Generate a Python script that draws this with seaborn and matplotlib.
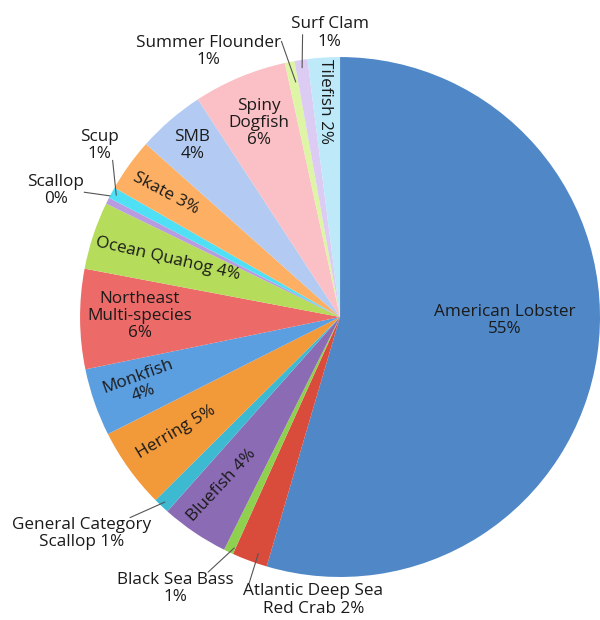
import numpy as np
import matplotlib
matplotlib.use("Agg")
import matplotlib.pyplot as plt
import seaborn as sns

# Species in chart order (clockwise from 12 o'clock)
species = ["American Lobster", "Atlantic Deep Sea Red Crab", "Black Sea Bass", "Bluefish",
           "General Category Scallop", "Herring", "Monkfish", "Northeast Multi-species",
           "Ocean Quahog", "Scallop", "Scup", "Skate", "SMB", "Spiny Dogfish",
           "Summer Flounder", "Surf Clam", "Tilefish"]
# wedge sizes (percent)
shares = [54.5, 2.2, 0.6, 4.2, 1.0, 5.0, 4.2, 6.2, 4.2, 0.4, 0.7, 3.3, 4.2, 5.8, 0.6, 0.8, 2.0]
# percentages as printed on the chart
reported = [55, 2, 1, 4, 1, 5, 4, 6, 4, 0, 1, 3, 4, 6, 1, 1, 2]

colors = ["#4F87C7", "#D94B3B", "#8FD14F", "#8C6BB5", "#3DB9D2", "#F2993A", "#5C9FE0",
          "#EC6A68", "#B6DC5B", "#B89BE0", "#4FE0F5", "#FDB064", "#B3CBF2", "#FBC0C5",
          "#DDF5A5", "#DCCBF2", "#BDE9F9"]

# label text layout (line breaks)
label_fmt = ["American Lobster\n{p}%", "Atlantic Deep Sea\nRed Crab {p}%", "Black Sea Bass\n{p}%",
             "Bluefish {p}%", "General Category\nScallop {p}%", "Herring {p}%", "Monkfish\n{p}%",
             "Northeast\nMulti-species\n{p}%", "Ocean Quahog {p}%", "Scallop\n{p}%", "Scup\n{p}%",
             "Skate {p}%", "SMB\n{p}%", "Spiny\nDogfish\n{p}%", "Summer Flounder\n{p}%",
             "Surf Clam\n{p}%", "Tilefish {p}%"]

# placement: (kind, radius, clockwise angle offset from wedge middle, rotation,
#             leader end radius, leader end angle offset, leader start relpos)
placement = [
    ("in", 0.635, -7, 0, None, 0, None),
    ("out", 1.093, -15, 0, 0.963, -1.3, (0.04, 1.0)),
    ("out", 1.222, 5.8, 0, 0.977, -0.8, (0.78, 1.0)),
    ("in", 0.79, 1, 47, None, 0, None),
    ("out", 1.297, 6.7, 0, 0.98, 0, (0.85, 0.97)),
    ("in", 0.77, 0.6, 31, None, 0, None),
    ("in", 0.81, 0.4, 20, None, 0, None),
    ("in", 0.77, 0.7, 0, None, 0, None),
    ("in", 0.70, 0.4, -13, None, 0, None),
    ("out", 1.197, -2.6, 0, 1.0, 1.2, (1.0, 0.45)),
    ("out", 1.138, 6.9, 0, 0.98, 0, (0.85, 0.05)),
    ("in", 0.82, -0.5, -28, None, 0, None),
    ("in", 0.87, 0, 0, None, 0, None),
    ("in", 0.81, 0, 0, None, 0, None),
    ("out", 1.14, -15.1, 0, 0.92, 0.5, (1.0, 0.8)),
    ("out", 1.093, 6.6, 0, 0.97, 0, (0.15, 0.45)),
    ("in", 0.83, -0.5, -90, None, 0, None),
]

sns.set_theme(style="white")
plt.rcParams['font.family'] = ['Open Sans', 'DejaVu Sans']

fig = plt.figure(figsize=(6, 6.2), dpi=100)
ax = fig.add_axes([0, 0, 1, 1])
wedges, _ = ax.pie(shares, colors=colors, startangle=90, counterclock=False,
                   radius=1.0, wedgeprops=dict(linewidth=0))
ax.set_xlim(-1.308, 1.0)
ax.set_ylim(-1.165, 1.219)
ax.set_aspect("equal")
ax.axis("off")

text_color = "#1a1a1a"
fs = 12.3
for w, fmt, p, (kind, r, dth, rot, ar, adth, rel) in zip(wedges, label_fmt, reported, placement):
    mid = (w.theta1 + w.theta2) / 2.0
    ang = np.deg2rad(mid - dth)
    tx, ty = r * np.cos(ang), r * np.sin(ang)
    txt = fmt.format(p=p)
    if kind == "in":
        ax.text(tx, ty, txt, ha="center", va="center", rotation=rot,
                rotation_mode="anchor", fontsize=fs, color=text_color, linespacing=1.1)
    else:
        a = np.deg2rad(mid - adth)
        ax.annotate(txt, xy=(ar * np.cos(a), ar * np.sin(a)), xytext=(tx, ty),
                    ha="center", va="center", fontsize=fs, color=text_color, linespacing=1.1,
                    arrowprops=dict(arrowstyle="-", color="#555555", lw=0.8,
                                    shrinkA=0, shrinkB=0, relpos=rel, patchA=None))

fig.savefig("out.png", dpi=100, facecolor="white")
